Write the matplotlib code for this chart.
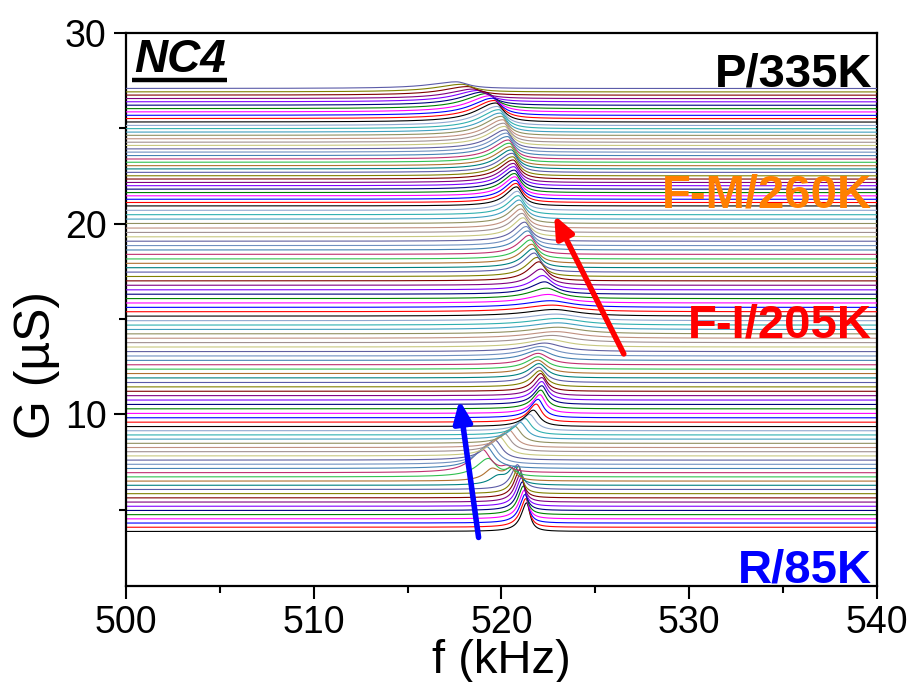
import numpy as np
import matplotlib
matplotlib.use("Agg")
import matplotlib.pyplot as plt

plt.rcParams['font.family'] = ['Liberation Sans', 'DejaVu Sans']

# ---------------- data ----------------
offsets = [3.86, 4.08, 4.30, 4.52, 4.74, 4.96, 5.18, 5.40, 5.62, 5.84,
           6.06, 6.28, 6.50, 6.72, 6.94, 7.16, 7.38, 7.60, 7.82, 8.04,
           8.26, 8.48, 8.70, 8.92, 9.14, 9.36, 9.59, 9.82, 10.05, 10.29,
           10.52, 10.75, 10.98, 11.21, 11.44, 11.67, 11.91, 12.14, 12.37, 12.60,
           12.83, 13.06, 13.29, 13.53, 13.76, 13.99, 14.22, 14.45, 14.68, 14.91,
           15.15, 15.38, 15.61, 15.84, 16.07, 16.30, 16.53, 16.77, 17.00, 17.23,
           17.46, 17.69, 17.92, 18.15, 18.39, 18.62, 18.85, 19.08, 19.31, 19.54,
           19.77, 20.01, 20.24, 20.47, 20.70, 20.93, 21.11, 21.28, 21.46, 21.63,
           21.81, 21.99, 22.16, 22.34, 22.51, 22.69, 22.87, 23.04, 23.22, 23.39,
           23.57, 23.75, 23.92, 24.10, 24.27, 24.45, 24.63, 24.80, 24.98, 25.15,
           25.33, 25.51, 25.68, 25.86, 26.03, 26.21, 26.39, 26.56, 26.74, 26.91,
           27.09]

centers = [521.34, 521.30, 521.26, 521.22, 521.17, 521.12, 521.07, 521.02, 520.97, 520.92,
           520.85, 520.70, 520.50, 519.30, 519.00, 519.20, 519.40, 519.65, 519.90, 520.15,
           520.40, 520.70, 521.00, 521.25, 521.50, 521.70, 521.85, 521.95, 522.05, 522.10,
           522.15, 522.15, 522.15, 522.10, 522.05, 522.00, 522.00, 521.95, 521.95, 521.95,
           522.00, 522.10, 522.30, 522.50, 522.70, 522.90, 523.00, 523.00, 523.00, 522.90,
           522.80, 522.70, 522.60, 522.50, 522.40, 522.30, 522.20, 522.10, 522.00, 521.90,
           521.75, 521.70, 521.62, 521.55, 521.48, 521.40, 521.32, 521.24, 521.16, 521.10,
           521.05, 521.00, 520.95, 520.90, 520.85, 520.80, 520.78, 520.75, 520.72, 520.70,
           520.68, 520.66, 520.64, 520.62, 520.60, 520.57, 520.52, 520.47, 520.42, 520.37,
           520.32, 520.27, 520.22, 520.17, 520.12, 520.07, 520.00, 519.93, 519.86, 519.78,
           519.70, 519.62, 519.52, 519.40, 519.25, 519.05, 518.80, 518.50, 518.20, 517.90,
           517.60]

heights = [1.50, 1.50, 1.50, 1.50, 1.50, 1.50, 1.50, 1.50, 1.48, 1.45,
           1.30, 0.90, 0.60, 0.95, 1.20, 1.15, 1.10, 1.05, 1.00, 0.96,
           0.92, 0.90, 0.88, 0.86, 0.86, 0.86, 0.95, 0.97, 0.98, 0.98,
           0.98, 0.97, 0.95, 0.93, 0.85, 0.80, 0.75, 0.70, 0.65, 0.60,
           0.55, 0.50, 0.45, 0.40, 0.38, 0.35, 0.35, 0.35, 0.35, 0.35,
           0.35, 0.35, 0.35, 0.45, 0.55, 0.65, 0.75, 0.85, 1.00, 1.00,
           1.00, 1.00, 1.00, 1.00, 1.00, 1.00, 1.00, 1.00, 1.00, 1.00,
           1.00, 1.00, 1.00, 1.00, 1.00, 1.00, 1.00, 1.00, 1.00, 1.00,
           1.00, 1.00, 1.00, 1.00, 1.00, 1.00, 1.00, 1.00, 1.00, 1.00,
           1.00, 1.00, 1.00, 1.00, 1.00, 1.00, 1.00, 1.00, 1.00, 1.00,
           1.00, 0.95, 0.90, 0.85, 0.80, 0.70, 0.60, 0.50, 0.45, 0.40,
           0.35]

width_left = [0.35, 0.35, 0.35, 0.35, 0.35, 0.35, 0.35, 0.35, 0.35, 0.35,
              0.40, 0.40, 0.40, 0.75, 0.75, 0.75, 0.72, 0.68, 0.65, 0.62,
              0.60, 0.58, 0.56, 0.55, 0.55, 0.55, 0.50, 0.50, 0.50, 0.50,
              0.50, 0.50, 0.50, 0.50, 0.55, 0.60, 0.65, 0.70, 0.75, 0.80,
              0.95, 1.10, 1.25, 1.40, 1.55, 1.80, 1.80, 1.80, 1.80, 1.80,
              1.80, 1.80, 1.60, 1.30, 1.10, 0.90, 0.75, 0.70, 0.70, 0.70,
              0.70, 0.70, 0.70, 0.70, 0.70, 0.70, 0.70, 0.70, 0.70, 0.70,
              0.70, 0.70, 0.70, 0.70, 0.70, 0.70, 0.72, 0.74, 0.76, 0.78,
              0.80, 0.82, 0.84, 0.86, 0.88, 0.90, 0.92, 0.95, 0.98, 1.00,
              1.02, 1.04, 1.06, 1.08, 1.10, 1.12, 1.15, 1.18, 1.21, 1.24,
              1.27, 1.30, 1.34, 1.38, 1.42, 1.46, 1.50, 1.55, 1.60, 1.65,
              1.70]

width_right = [0.22, 0.22, 0.22, 0.22, 0.22, 0.22, 0.22, 0.22, 0.22, 0.22,
               0.30, 0.30, 0.30, 0.50, 0.50, 0.50, 0.48, 0.46, 0.45, 0.44,
               0.43, 0.42, 0.41, 0.40, 0.40, 0.40, 0.35, 0.35, 0.35, 0.35,
               0.35, 0.35, 0.35, 0.35, 0.40, 0.45, 0.50, 0.55, 0.60, 0.70,
               0.80, 0.95, 1.10, 1.25, 1.40, 1.50, 1.50, 1.50, 1.50, 1.50,
               1.50, 1.50, 1.30, 1.00, 0.80, 0.65, 0.55, 0.50, 0.45, 0.40,
               0.40, 0.40, 0.40, 0.40, 0.40, 0.40, 0.40, 0.40, 0.40, 0.40,
               0.40, 0.40, 0.40, 0.40, 0.40, 0.40, 0.40, 0.40, 0.40, 0.40,
               0.40, 0.40, 0.40, 0.40, 0.40, 0.40, 0.40, 0.40, 0.40, 0.40,
               0.40, 0.40, 0.40, 0.40, 0.40, 0.40, 0.42, 0.44, 0.46, 0.48,
               0.50, 0.52, 0.55, 0.58, 0.60, 0.62, 0.65, 0.68, 0.70, 0.72,
               0.75]

# secondary bumps in the 85K -> 205K transition
sub_index = [11, 12, 13, 14]
sub_center = [519.8, 519.5, 520.5, 520.3]
sub_height = [0.40, 0.60, 0.35, 0.25]
sub_width = [0.50, 0.50, 0.30, 0.30]

phase_labels = ["P/335K", "F-M/260K", "F-I/205K", "R/85K"]
phase_colors = ["#000000", "#FF8000", "#FF0000", "#0000FF"]
phase_label_y = [27.17, 20.84, 14.03, 1.20]

sample_name = "NC4"

line_colors = ['#000000', '#FF0000', '#0000FF', '#FF00FF', '#008000',
               '#000080', '#8000FF', '#800080', '#800000', '#808000',
               '#5B5BA8', '#008080', '#B07030', '#30C050', '#C03070',
               '#4682B4', '#7090C0', '#6060A0', '#C8C880', '#A09090',
               '#C09080', '#909060', '#40A0C0', '#30B0B0', '#90A8D0']

# ---------------- figure ----------------
fig = plt.figure(figsize=(9.09, 6.82), dpi=100)
ax = fig.add_axes([0.1386, 0.1408, 0.8262, 0.8108])

f = np.linspace(500, 540, 2401)
for i in range(len(offsets)):
    c = centers[i]
    w = np.where(f < c, width_left[i], width_right[i])
    g = offsets[i] + heights[i] / (1.0 + ((f - c) / w) ** 2)
    if i in sub_index:
        k = sub_index.index(i)
        g = g + sub_height[k] / (1.0 + ((f - sub_center[k]) / sub_width[k]) ** 2)
    ax.plot(f, g, color=line_colors[i % len(line_colors)], lw=0.8, zorder=2 + i * 0.01)

ax.set_xlim(500, 540)
ax.set_ylim(1, 30)
ax.set_xticks([500, 510, 520, 530, 540])
ax.set_xticks([505, 515, 525, 535], minor=True)
ax.set_yticks([10, 20, 30])
ax.set_yticks([5, 15, 25], minor=True)
ax.tick_params(axis='both', which='major', direction='out', length=9, width=1.5,
               labelsize=27, pad=5)
ax.tick_params(axis='both', which='minor', direction='out', length=5, width=1.5)
ax.tick_params(top=False, right=False)
for s in ax.spines.values():
    s.set_linewidth(1.6)

ax.set_xlabel("f (kHz)", fontsize=34, labelpad=-2)
ax.set_ylabel("G (\u00b5S)", fontsize=36)
ax.yaxis.set_label_coords(-0.088, 0.40)

# phase labels
for txt, col, yy in zip(phase_labels, phase_colors, phase_label_y):
    ax.text(539.75, yy, txt, color=col, fontsize=34, fontweight='bold',
            ha='right', va='baseline', zorder=10)

# sample name (bold italic, underlined)
ax.text(500.45, 27.95, sample_name, fontsize=33, fontweight='bold', style='italic',
        ha='left', va='baseline', zorder=10)
ax.plot([500.3, 505.4], [27.55, 27.55], color='black', lw=3.2, zorder=10,
        solid_capstyle='butt')

# arrows
ax.annotate("", xy=(522.74, 20.58), xytext=(526.58, 13.04),
            arrowprops=dict(arrowstyle='-|>,head_length=1.3,head_width=0.55',
                            color='#FF0000', lw=4), zorder=11)
ax.annotate("", xy=(517.74, 10.89), xytext=(518.80, 3.40),
            arrowprops=dict(arrowstyle='-|>,head_length=1.3,head_width=0.55',
                            color='#0000FF', lw=4), zorder=11)

fig.savefig("out.png", dpi=100)
